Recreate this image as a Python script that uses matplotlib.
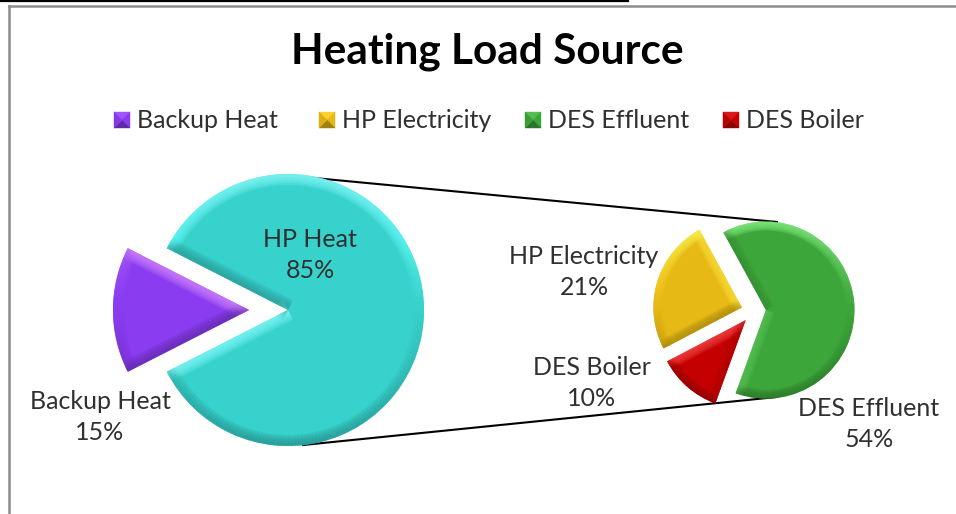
import numpy as np
import matplotlib
matplotlib.use("Agg")
import matplotlib.pyplot as plt
from matplotlib.collections import LineCollection
from matplotlib.colors import to_rgb

plt.rcParams['font.family'] = ['Lato', 'DejaVu Sans']

# data
main_labels = ['HP Heat', 'Backup Heat']
main_values = [85, 15]
main_colors = ['#38D2CC', '#8A3CF0']

sub_labels = ['DES Effluent', 'HP Electricity', 'DES Boiler']
sub_values = [54, 21, 10]
sub_colors = ['#3DA63A', '#E6B914', '#C40000']

legend_labels = ['Backup Heat', 'HP Electricity', 'DES Effluent', 'DES Boiler']
legend_colors = ['#8A3CF0', '#E6B914', '#3DA63A', '#C40000']
legend_x = [114, 319, 525, 723]

W, H = 956, 514


def py(y):
    # picture rows run downwards, the axes upwards
    return H - y


def shade(color, amount):
    c = np.array(to_rgb(color))
    if amount > 0:
        return tuple(np.clip(c + amount * 0.6, 0, 1))
    return tuple(c * (1 + amount))


def bevel(ax, wedge, color, widths):
    # soft edge strokes, clipped to the wedge, lit from above
    cx, cy = wedge.center
    t = np.radians(np.linspace(wedge.theta1, wedge.theta2, 200))
    xs = np.concatenate([[cx], cx + wedge.r * np.cos(t), [cx]])
    ys = np.concatenate([[cy], cy + wedge.r * np.sin(t), [cy]])
    segs = []
    cols = []
    for i in range(len(xs) - 1):
        dx, dy = xs[i + 1] - xs[i], ys[i + 1] - ys[i]
        ny = -dx / np.hypot(dx, dy)
        segs.append([(xs[i], ys[i]), (xs[i + 1], ys[i + 1])])
        cols.append(shade(color, ny * 0.6 if ny > 0 else ny * 0.33))
    for w in widths:
        lc = LineCollection(segs, colors=cols, linewidths=w * 0.72, alpha=0.2,
                            capstyle='butt', zorder=3)
        ax.add_collection(lc)
        lc.set_clip_path(wedge)


fig = plt.figure(figsize=(W / 100, H / 100), dpi=100)
ax = fig.add_axes([0, 0, 1, 1])

# connector lines go under the pies
ax.plot([288, 777], [py(175.5), py(222)], color='black', lw=1.5, zorder=1)
ax.plot([303, 777], [py(445), py(397)], color='black', lw=1.5, zorder=1)

# explode is in axis units here, the axis being in pixels
main_w, _ = ax.pie(main_values, colors=main_colors, startangle=-153,
                   center=(268.5, py(310)), radius=136, explode=[19.5, 19.5],
                   frame=True, wedgeprops={'zorder': 2})
sub_w, _ = ax.pie(sub_values, colors=sub_colors, startangle=-110,
                  center=(753.7, py(311)), radius=88.5, explode=[12.3, 12.3, 12.3],
                  frame=True, wedgeprops={'zorder': 2})

for w, c in zip(main_w, main_colors):
    bevel(ax, w, c, [22, 18, 14, 10, 6])
for w, c in zip(sub_w, sub_colors):
    bevel(ax, w, c, [18, 15, 12, 8, 4])

ax.set_xlim(0, W)
ax.set_ylim(0, H)
ax.set_aspect('equal')
ax.axis('off')

# frame bits at the top left
ax.plot([0, 628], [py(1), py(1)], color='black', lw=1.6, zorder=1)
ax.plot([9, W], [py(6), py(6)], color='#8C8C8C', lw=1.8, zorder=1)
ax.plot([9, 9], [py(6), 0], color='#8C8C8C', lw=1.8, zorder=1)

ax.text(487, py(52), 'Heating Load Source', ha='center', va='center',
        fontsize=30.5, fontweight='bold', color='black')

# legend, pyramid shaded squares
for name, col, x in zip(legend_labels, legend_colors, legend_x):
    y0, s = 112, 16
    a, b, c, d = (x, py(y0)), (x + s, py(y0)), (x + s, py(y0 + s)), (x, py(y0 + s))
    m = (x + s / 2, py(y0 + s / 2))
    for tri, k in [((a, b, m), 0.15), ((b, c, m), 0.0), ((c, d, m), -0.3), ((d, a, m), -0.05)]:
        ax.fill(*zip(*tri), color=shade(col, k), lw=0.3, zorder=3)
    ax.text(x + 23, py(121), name, ha='left', va='center', fontsize=18,
            color='#303030')

# slice labels
label_xy = {'HP Heat': (310, 255), 'Backup Heat': (100, 417), 'HP Electricity': (584, 272),
            'DES Boiler': (592, 383), 'DES Effluent': (869, 424)}
all_labels = main_labels + sub_labels
all_values = main_values + sub_values
for name, val in zip(all_labels, all_values):
    x, y = label_xy[name]
    ax.text(x, py(y), f'{name}\n{val}%', ha='center', va='center', fontsize=18,
            color='#303030', linespacing=1.45, zorder=5)

fig.savefig('out.png', dpi=100)
